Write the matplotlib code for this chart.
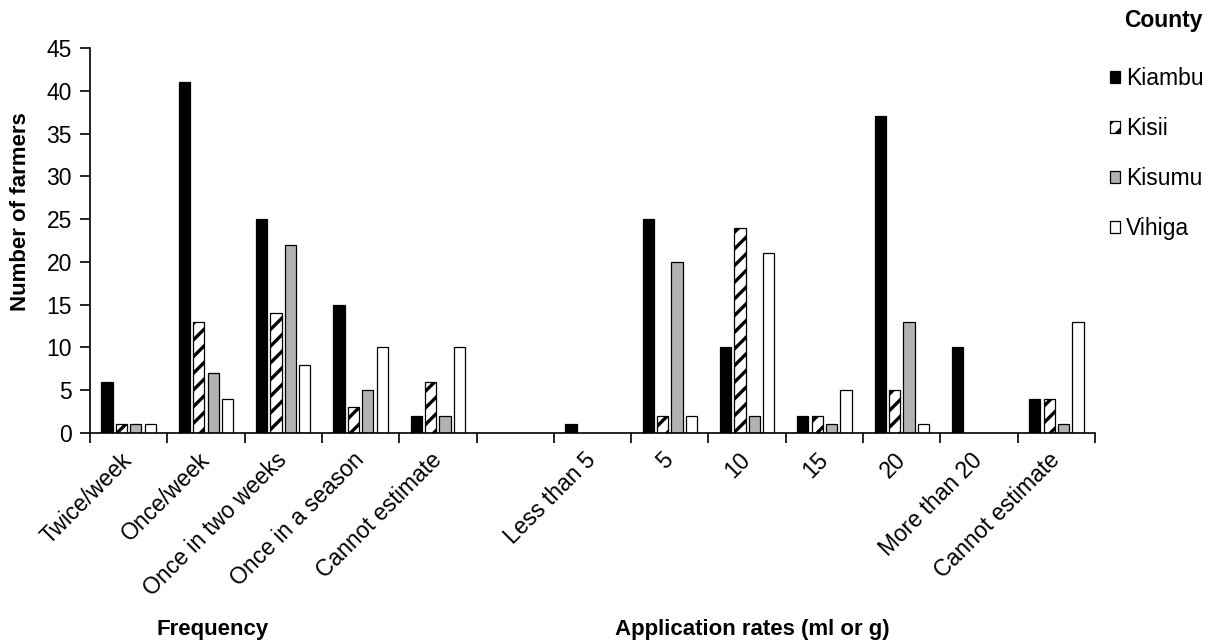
import matplotlib
matplotlib.use('Agg')
import matplotlib.pyplot as plt
import numpy as np

plt.rcParams['font.family'] = ['Liberation Sans', 'DejaVu Sans']
plt.rcParams['hatch.linewidth'] = 2.4

categories = ['Twice/week', 'Once/week', 'Once in two weeks', 'Once in a season',
              'Cannot estimate', '', 'Less than 5', '5', '10', '15', '20',
              'More than 20', 'Cannot estimate']
kiambu = [6, 41, 25, 15, 2, np.nan, 1, 25, 10, 2, 37, 10, 4]
kisii = [1, 13, 14, 3, 6, np.nan, 0, 2, 24, 2, 5, 0, 4]
kisumu = [1, 7, 22, 5, 2, np.nan, 0, 20, 2, 1, 13, 0, 1]
vihiga = [1, 4, 8, 10, 10, np.nan, 0, 2, 21, 5, 1, 0, 13]
series_names = ['Kiambu', 'Kisii', 'Kisumu', 'Vihiga']
y_ticks = [0, 5, 10, 15, 20, 25, 30, 35, 40, 45]

FS = 16.5

fig = plt.figure(figsize=(12.12, 6.44), dpi=100)
ax = fig.add_axes([90/1212, 1-433/644, (1095-90)/1212, (433-48)/644])

n = len(categories)
centers = np.arange(n) + 0.5
pitch = 0.186
width = 0.145
styles = [
    dict(facecolor='black', edgecolor='black', hatch=None),
    dict(facecolor='white', edgecolor='black', hatch='//'),
    dict(facecolor='#b2b2b2', edgecolor='black', hatch=None),
    dict(facecolor='white', edgecolor='black', hatch=None),
]
data = [kiambu, kisii, kisumu, vihiga]
for i, (vals, name, st) in enumerate(zip(data, series_names, styles)):
    vals = np.array(vals, dtype=float)
    vals = np.where(vals == 0, np.nan, vals)
    ax.bar(centers + (i - 1.5) * pitch, vals, width=width, label=name,
           linewidth=0.9, **st)

ax.set_xlim(0, n)
ax.set_ylim(0, 45)
ax.set_yticks(y_ticks)
ax.tick_params(axis='y', labelsize=FS, length=7, width=1.2, direction='out', pad=6)
ax.set_xticks(np.arange(n + 1), minor=False)
ax.set_xticklabels([])
ax.set_xticks(centers, minor=True)
ax.set_xticklabels(categories, minor=True, rotation=45, ha='right', va='center',
                   rotation_mode='anchor', fontsize=FS)
ax.tick_params(axis='x', which='major', length=7, width=1.2, direction='out')
ax.tick_params(axis='x', which='minor', length=0, pad=17)
for s in ['top', 'right']:
    ax.spines[s].set_visible(False)
for s in ['left', 'bottom']:
    ax.spines[s].set_linewidth(1.2)

ax.set_ylabel('Number of farmers', fontsize=16, fontweight='bold')
ax.yaxis.set_label_coords((31-90)/1005, 0.575)

fig.text(213/1212, 1-629/644, 'Frequency', fontsize=16, fontweight='bold',
         ha='center', va='center')
fig.text(615/1212, 1-629/644, 'Application rates (ml or g)', fontsize=16,
         fontweight='bold', ha='left', va='center')
fig.text(1203/1212, 1-21/644, 'County', fontsize=16.5, fontweight='bold',
         ha='right', va='center')

leg = ax.legend(loc='upper left', bbox_to_anchor=(1110/1212, 1-67/644),
                bbox_transform=fig.transFigure, frameon=False, fontsize=FS,
                handlelength=0.45, handleheight=0.45, handletextpad=0.25,
                labelspacing=1.18, borderaxespad=0, borderpad=0)

fig.savefig('out.png', dpi=100)
